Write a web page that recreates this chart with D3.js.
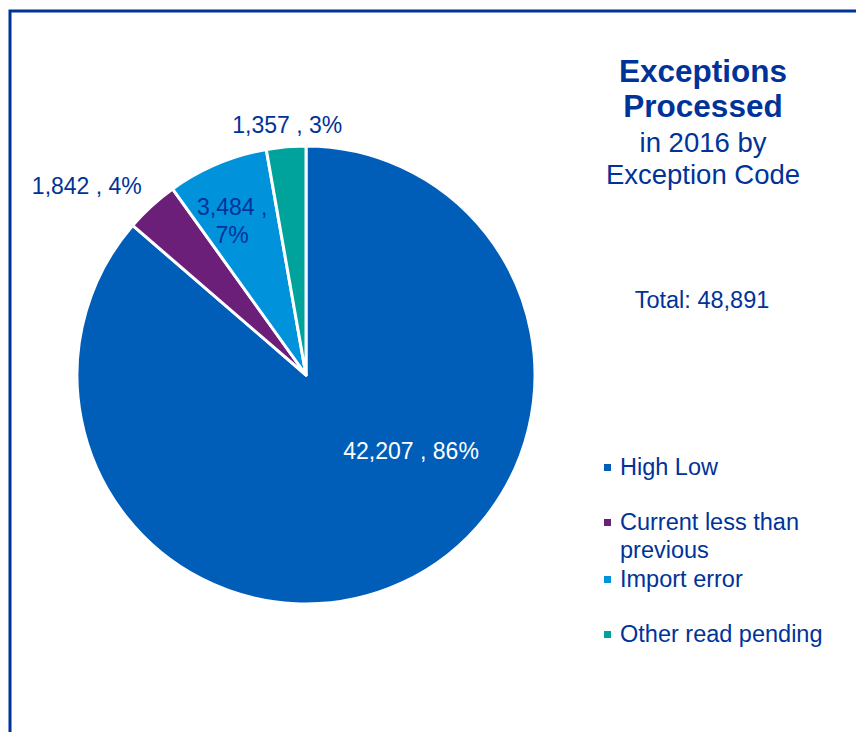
<!DOCTYPE html>
<html>
<head>
<meta charset="utf-8">
<script src="https://cdnjs.cloudflare.com/ajax/libs/d3/7.8.5/d3.min.js"></script>
<style>
  body { margin: 0; background: #fff; }
  svg { display: block; font-family: "Liberation Sans", Arial, sans-serif; }
</style>
</head>
<body>
<script>
// chart data
var categories = ["High Low", "Current less than previous", "Import error", "Other read pending"];
var counts = [42207, 1842, 3484, 1357];
var colors = ["#005eb8", "#6b1f78", "#0093dc", "#00a29c"];
var legendLines = [["High Low"], ["Current less than", "previous"], ["Import error"], ["Other read pending"]];
var titleLines = ["Exceptions", "Processed"];
var subtitleLines = ["in 2016 by", "Exception Code"];
var reportedTotal = 48891;

function init(){
    var w = 856, h = 732;
    var cx = 306, cy = 375, radius = 229;
    var textColor = "#003399";

    var svg = d3.select("body").append("svg")
        .attr("width", w)
        .attr("height", h);

    svg.append("rect").attr("width", w).attr("height", h).attr("fill", "#fff");

    // frame (top and left edge only)
    svg.append("path")
        .attr("d", "M10," + h + "V11H" + w)
        .attr("fill", "none")
        .attr("stroke", "#003399")
        .attr("stroke-width", 3);

    var total = d3.sum(counts);
    var data = categories.map(function(c, i){
        return {name: c, value: counts[i], color: colors[i]};
    });

    var pie = d3.pie().value(function(d){ return d.value; }).sort(null);
    var arcs = pie(data);

    var arc = d3.arc().innerRadius(0).outerRadius(radius);

    var g = svg.append("g").attr("transform", "translate(" + cx + "," + cy + ")");

    g.selectAll("path")
        .data(arcs)
        .enter()
        .append("path")
        .attr("d", arc)
        .attr("fill", function(d){ return d.data.color; })
        .attr("stroke", "#fff")
        .attr("stroke-width", 3)
        .attr("stroke-linejoin", "round");

    // label placement: radius factor and angle shift (degrees) per slice
    var labelPos = [
        {r: 0.57, shift: -29, fill: "#fff", lines: 1},
        {r: 1.26, shift: -7, fill: textColor, lines: 1},
        {r: 0.74, shift: -3, fill: textColor, lines: 2},
        {r: 1.09, shift: 0.7, fill: textColor, lines: 1}
    ];
    var fmt = d3.format(",");

    arcs.forEach(function(d, i){
        var p = labelPos[i];
        var mid = (d.startAngle + d.endAngle) / 2 + p.shift * Math.PI / 180;
        var rr = radius * p.r;
        var x = rr * Math.sin(mid), y = -rr * Math.cos(mid);
        var pct = Math.round(d.data.value / total * 100) + "%";
        var lines = p.lines === 2 ? [fmt(d.data.value) + " ,", pct] : [fmt(d.data.value) + " , " + pct];
        var t = g.append("text")
            .attr("text-anchor", "middle")
            .attr("font-size", "23px")
            .attr("fill", p.fill);
        lines.forEach(function(l, j){
            t.append("tspan")
                .attr("x", x)
                .attr("y", y + 7 + (j - (lines.length - 1) / 2) * 28)
                .text(l);
        });
    });

    // title
    var tx = 703;
    titleLines.forEach(function(l, i){
        svg.append("text")
            .attr("x", tx).attr("y", 82 + i * 35)
            .attr("text-anchor", "middle")
            .attr("font-size", "31.5px")
            .attr("font-weight", "bold")
            .attr("fill", textColor)
            .text(l);
    });
    subtitleLines.forEach(function(l, i){
        svg.append("text")
            .attr("x", tx).attr("y", 152 + i * 32)
            .attr("text-anchor", "middle")
            .attr("font-size", "27.5px")
            .attr("fill", textColor)
            .text(l);
    });

    svg.append("text")
        .attr("x", 702).attr("y", 308)
        .attr("text-anchor", "middle")
        .attr("font-size", "23.5px")
        .attr("fill", textColor)
        .text("Total: " + fmt(reportedTotal));

    // legend
    var legendY = [475, 530, 587, 642];
    var legend = svg.selectAll(".legend")
        .data(data)
        .enter()
        .append("g")
        .attr("class", "legend")
        .attr("transform", function(d, i){ return "translate(604," + legendY[i] + ")"; });

    legend.append("rect")
        .attr("x", 0).attr("y", -11)
        .attr("width", 7).attr("height", 7)
        .attr("fill", function(d){ return d.color; });

    legend.append("text")
        .attr("font-size", "23.5px")
        .attr("fill", textColor)
        .each(function(d, i){
            var t = d3.select(this);
            legendLines[i].forEach(function(l, j){
                t.append("tspan").attr("x", 16).attr("y", j * 28).text(l);
            });
        });
}
window.onload = init;
</script>
</body>
</html>
